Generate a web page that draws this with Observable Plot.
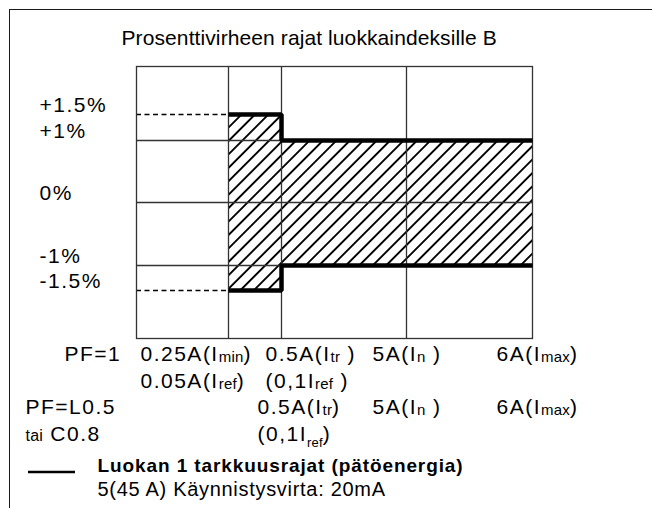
<!DOCTYPE html>
<html>
<head>
<meta charset="utf-8">
<script src="https://cdn.jsdelivr.net/npm/d3@7"></script>
<script src="https://cdn.jsdelivr.net/npm/@observablehq/plot@0.6"></script>
<style>
html, body { margin: 0; padding: 0; background: #fff; }
#wrap { position: relative; width: 652px; height: 508px; overflow: hidden; }
#wrap svg { position: absolute; left: 0; top: 0; z-index: 0; }
#border { position: absolute; left: 9px; top: 9px; right: -4px; bottom: -4px; z-index: 1;
  border-top: 1.5px solid #1a1a1a; border-left: 1.5px solid #1a1a1a; pointer-events: none; }
.lbl text { letter-spacing: 1.5px; }
.lbl text tspan.sub { letter-spacing: 0.2px; }
.ttl text { letter-spacing: 0.1px; }
.lgd text { letter-spacing: 0.9px; }
.note text { letter-spacing: 0.7px; }
</style>
</head>
<body>
<div id="wrap"><div id="border"></div></div>
<script>
// ---- data ----
const title = "Prosenttivirheen rajat luokkaindeksille B";
const gridCurrents = [0.25, 0.5, 5];          // Imin, Itr, In (A)
const axisCurrents = [0, 0.25, 0.5, 5, 6];    // schematic current axis (A)
const limitX = [0.25, 0.5, 6];                // step start points (A)
const upperLimit = [1.5, 1, 1];               // %
const lowerLimit = [-1.5, -1, -1];            // %
const yTicks = [-1.5, -1, 0, 1, 1.5];
const gridY = [-1, 0, 1];
const dashedY = [-1.5, 1.5];
const rowTitles = ["PF=1", "PF=L0.5", "~{tai} C0.8"];
const pf1Labels = ["0.25A(I_{min})", "0.5A(I_{tr} )", "5A(I_{n} )", "6A(I_{max})"];
const pf1RefLabels = ["0.05A(I_{ref})", "(0,1I_{ref} )"];
const pfL05Labels = ["0.5A(I_{tr})", "5A(I_{n} )", "6A(I_{max})"];
const pfL05RefLabels = ["(0,1I__{ref})"];
const legendTitle = "Luokan 1 tarkkuusrajat (pätöenergia)";
const legendNote = "5(45 A) Käynnistysvirta: 20mA";

const limits = limitX.map((x, i) => ({x, lo: lowerLimit[i], hi: upperLimit[i]}));

// ---- layout (styles / offsets) ----
const FONT = "'Liberation Sans', Arial, Helvetica, sans-serif";
function labelMark(text, xv, dx, dy, opts = {}) {
  return Plot.text([text], {
    x: xv, frameAnchor: "bottom", textAnchor: "start", lineAnchor: "bottom",
    dx, dy, fontSize: 21, fill: "#000", className: "lbl", ...opts
  });
}
const rows = [
  {labels: [rowTitles[0], ...pf1Labels], at: [0, 0, 0.5, 5, 6], dx: [-72, 4, -16, -34, -36], dy: 22},
  {labels: pf1RefLabels, at: [0, 0.5], dx: [4, -16], dy: 49},
  {labels: [rowTitles[1], ...pfL05Labels], at: [0, 0.5, 5, 6], dx: [-111, -24, -34, -36], dy: 75},
  {labels: [rowTitles[2], ...pfL05RefLabels], at: [0, 0.5], dx: [-111, -24], dy: 102}
];
const rowMarks = rows.flatMap(r => r.labels.map((t, i) => labelMark(t, r.at[i], r.dx[i], r.dy)));

const hatchDefs = () => {
  const defs = d3.create("svg:defs");
  const p = defs.append("pattern").attr("id", "hatch")
    .attr("patternUnits", "userSpaceOnUse").attr("width", 9.5).attr("height", 9.5)
    .attr("patternTransform", "rotate(45)");
  p.append("line").attr("x1", 4.75).attr("x2", 4.75).attr("y1", -1).attr("y2", 10.5)
    .attr("stroke", "#000").attr("stroke-width", 1.9);
  return defs.node();
};
const legendSwatch = () => d3.create("svg:line")
  .attr("x1", 28).attr("x2", 75).attr("y1", 472).attr("y2", 472)
  .attr("stroke", "#000").attr("stroke-width", 2.6).node();

const chart = Plot.plot({
  width: 652, height: 508,
  marginLeft: 136, marginRight: 120, marginTop: 66, marginBottom: 170,
  x: {type: "linear", domain: axisCurrents, range: [136, 228, 281, 406, 532], axis: null},
  y: {type: "linear", domain: yTicks, range: [290, 265, 202, 140, 114], axis: null},
  style: {fontFamily: FONT, fontSize: "21px", color: "#000", background: "transparent"},
  marks: [
    hatchDefs,
    Plot.areaY(limits, {x: "x", y1: "lo", y2: "hi", curve: "step-after", fill: "url(#hatch)"}),
    Plot.ruleY(gridY, {stroke: "#333", strokeWidth: 1.3}),
    Plot.ruleX(gridCurrents, {stroke: "#333", strokeWidth: 1.3}),
    Plot.ruleY(dashedY, {x1: 0, x2: 0.25, stroke: "#000", strokeWidth: 1.3, strokeDasharray: "5,3.5"}),
    Plot.frame({stroke: "#333", strokeWidth: 1.3}),
    Plot.line(limits, {x: "x", y: "hi", curve: "step-after", stroke: "#000", strokeWidth: 4.5,
      strokeLinejoin: "miter", strokeLinecap: "butt"}),
    Plot.line(limits, {x: "x", y: "lo", curve: "step-after", stroke: "#000", strokeWidth: 4.5,
      strokeLinejoin: "miter", strokeLinecap: "butt"}),
    Plot.axisY({ticks: yTicks, tickSize: 0, tickPadding: 0, textAnchor: "start", dx: -97, dy: -9,
      tickFormat: d => (d > 0 ? "+" : "") + d + "%", fontSize: 21, fill: "#000", className: "lbl", label: null}),
    Plot.text([title], {frameAnchor: "top-left", textAnchor: "start", lineAnchor: "bottom",
      dx: -15, dy: -22, fontSize: 21, fill: "#000", className: "ttl"}),
    ...rowMarks,
    labelMark(legendTitle, 0, -39, 133, {fontSize: 19, fontWeight: "bold", className: "lgd"}),
    labelMark(legendNote, 0, -39, 157, {fontSize: 20, className: "note"}),
    legendSwatch
  ]
});

// rich text: _{sub}, __{deep sub}, ~{small}
d3.select(chart).selectAll("text").each(function () {
  const s = this.textContent;
  if (!/[_~]\{/.test(s)) return;
  const el = d3.select(this);
  el.text(null);
  const re = /(__|_|~)\{([^}]*)\}/g;
  let last = 0, m, shift = 0;
  const plain = str => {
    const t = el.append("tspan").text(str);
    if (shift) { t.attr("dy", -shift); shift = 0; }
  };
  while ((m = re.exec(s))) {
    if (m.index > last) plain(s.slice(last, m.index));
    if (m[1] === "~") {
      const t = el.append("tspan").text(m[2]).attr("font-size", 16).attr("class", "sub");
      if (shift) { t.attr("dy", -shift); shift = 0; }
    } else {
      const d = m[1] === "__" ? 6 : 1.5;
      el.append("tspan").text(m[2]).attr("class", "sub")
        .attr("font-size", m[1] === "__" ? 13 : 15).attr("dy", d - shift);
      shift = d;
    }
    last = re.lastIndex;
  }
  if (last < s.length) plain(s.slice(last));
});

const wrap = document.getElementById("wrap");
wrap.insertBefore(chart, wrap.firstChild);
</script>
</body>
</html>
